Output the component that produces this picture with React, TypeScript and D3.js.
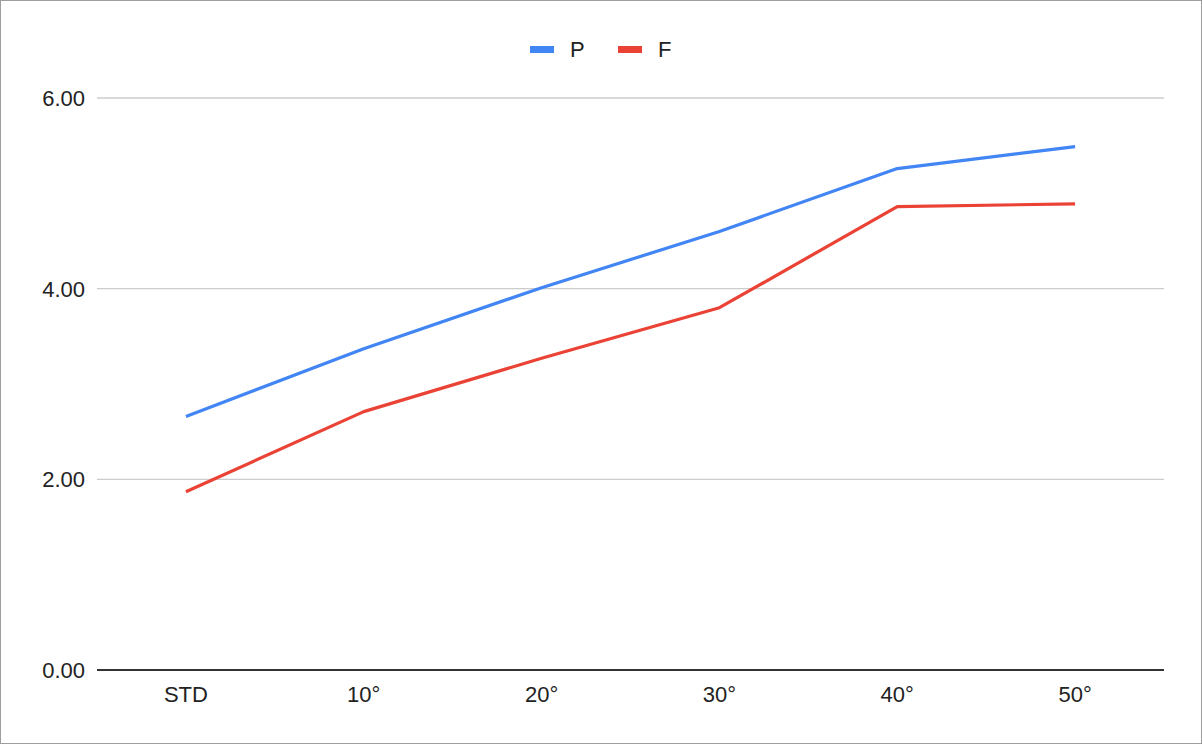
import React from "react";
import * as d3 from "d3";

const categories = ["STD", "10°", "20°", "30°", "40°", "50°"];
const seriesP = [2.66, 3.37, 4.01, 4.6, 5.26, 5.49];
const seriesF = [1.87, 2.71, 3.27, 3.8, 4.86, 4.89];
const yTicks = [0, 2, 4, 6];
const seriesNames = ["P", "F"];
const seriesColors = ["#4285F4", "#EA4335"];

const W = 1202;
const H = 744;
const M = { left: 97, right: 38, top: 98, bottom: 74 };

export default function App() {
  const x = d3
    .scaleBand<string>()
    .domain(categories)
    .range([M.left, W - M.right]);
  const y = d3
    .scaleLinear()
    .domain([0, 6])
    .range([H - M.bottom, M.top]);
  const line = d3
    .line<number>()
    .x((_, i) => (x(categories[i]) as number) + x.bandwidth() / 2)
    .y((d) => y(d));
  const series = [seriesP, seriesF];
  const font = "Arial, 'Liberation Sans', sans-serif";
  const legendX = [530, 618];

  return (
    <div style={{ position: "absolute", left: 0, top: 0 }}>
      <svg width={W} height={H} style={{ display: "block", fontFamily: font }}>
        <rect x={0} y={0} width={W} height={H} fill="#fff" />
        <rect x={0.5} y={0.5} width={W - 1} height={H - 1} fill="none" stroke="#9e9e9e" />
        {yTicks.map((t) => (
          <g key={t}>
            {t !== 0 && (
              <line x1={M.left} x2={W - M.right} y1={y(t)} y2={y(t)} stroke="#cccccc" strokeWidth={1.3} />
            )}
            <text x={85} y={y(t)} dy="0.36em" textAnchor="end" fontSize={22} fill="#222">
              {t.toFixed(2)}
            </text>
          </g>
        ))}
        <line x1={M.left} x2={W - M.right} y1={y(0)} y2={y(0)} stroke="#333" strokeWidth={2} />
        {categories.map((c) => (
          <text
            key={c}
            x={(x(c) as number) + x.bandwidth() / 2}
            y={702}
            textAnchor="middle"
            fontSize={22}
            fill="#222"
          >
            {c}
          </text>
        ))}
        {series.map((s, i) => (
          <path
            key={i}
            d={line(s) || ""}
            fill="none"
            stroke={seriesColors[i]}
            strokeWidth={3.2}
            strokeLinejoin="round"
          />
        ))}
        {seriesNames.map((n, i) => (
          <g key={n}>
            <rect x={legendX[i]} y={46} width={24} height={7} fill={seriesColors[i]} />
            <text x={legendX[i] + 40} y={57} fontSize={22} fill="#222">
              {n}
            </text>
          </g>
        ))}
      </svg>
    </div>
  );
}
